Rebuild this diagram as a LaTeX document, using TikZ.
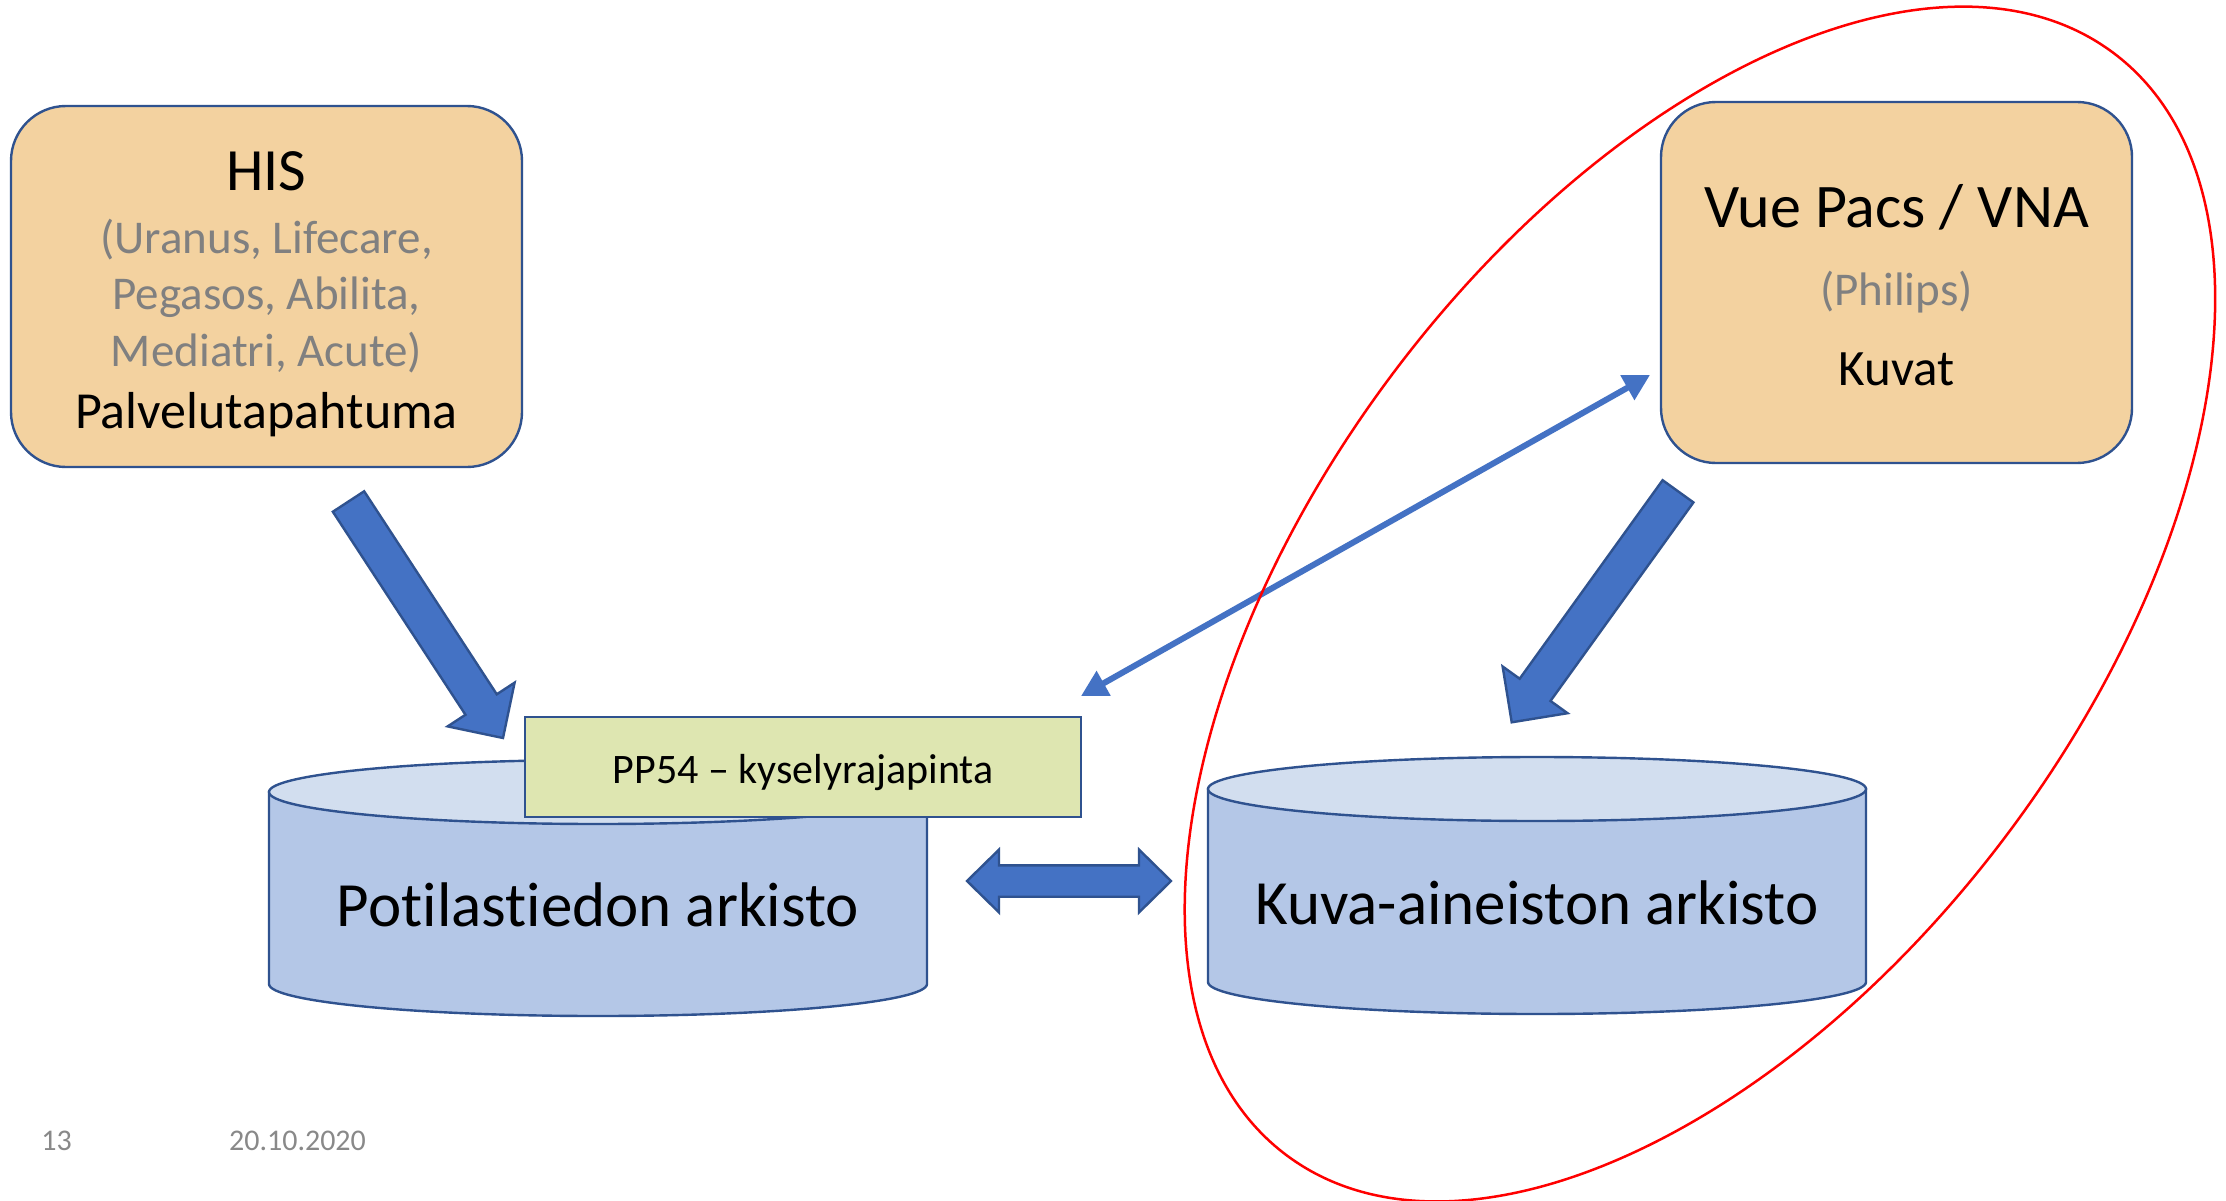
\documentclass[tikz,border=0pt]{standalone}
\usepackage{fontspec}
\setmainfont[Ligatures={NoCommon,NoContextual}]{Carlito}
\usetikzlibrary{calc,arrows.meta}
\definecolor{boxfill}{HTML}{F3D2A0}
\definecolor{boxline}{HTML}{2F528F}
\definecolor{cylbody}{HTML}{B4C7E7}
\definecolor{cyltop}{HTML}{D2DEEF}
\definecolor{ppfill}{HTML}{DEE6B1}
\definecolor{arrowblue}{HTML}{4472C4}
\definecolor{graytext}{HTML}{808080}
\definecolor{footgray}{HTML}{898989}
\newcommand\blockarrow[5]{%
  \coordinate (ba-h) at ($(#2)!#5!(#1)$);
  \draw[bigarrow] ($(#1)!#3!90:(#2)$) -- ($(ba-h)!#3!90:(#2)$) -- ($(ba-h)!#4!90:(#2)$) -- (#2)
     -- ($(ba-h)!#4!-90:(#2)$) -- ($(ba-h)!#3!-90:(#2)$) -- ($(#1)!#3!-90:(#2)$) -- cycle;
}
\begin{document}
\begin{tikzpicture}[x=1pt,y=-1pt,
  sysbox/.style={draw=boxline, line width=2.4pt, fill=boxfill, rounded corners=55pt, inner sep=0pt},
  ppbox/.style={draw=boxline, line width=2.4pt, fill=ppfill, inner sep=0pt},
  txt/.style={anchor=base, inner sep=0pt, text=black},
  graytxt/.style={anchor=base, inner sep=0pt, text=graytext},
  cyl/.style={draw=boxline, line width=2.4pt, fill=cylbody},
  cyltopst/.style={draw=boxline, line width=2.4pt, fill=cyltop},
  bigarrow/.style={draw=boxline, line width=2.4pt, fill=arrowblue, line join=miter},
  thinarrow/.style={draw=arrowblue, line width=6pt, {Triangle[length=26pt,width=27pt]}-{Triangle[length=26pt,width=27pt]}},
  redring/.style={draw=red, line width=2.5pt},
  foot/.style={anchor=base, inner sep=0pt, text=footgray, font=\fontsize{30}{36}\selectfont}]
\useasboundingbox (0,0) rectangle (2226,1201);
\fill[white] (0,0) rectangle (2226,1201);

% HIS box
\node[sysbox, minimum width=511pt, minimum height=361pt] (his) at (266.5,286.5) {};
\node[txt, font=\fontsize{60}{72}\selectfont] (his-t1) at (266.5,190) {HIS};
\node[graytxt, font=\fontsize{47}{56}\selectfont] (his-t2) at (266.5,253) {(Uranus, Lifecare,};
\node[graytxt, font=\fontsize{47}{56}\selectfont] (his-t3) at (266.5,309) {Pegasos, Abilita,};
\node[graytxt, font=\fontsize{47}{56}\selectfont] (his-t4) at (266.5,366) {Mediatri, Acute)};
\node[txt, font=\fontsize{52}{62}\selectfont] (his-t5) at (266.5,428) {Palvelutapahtuma};

% Vue box
\node[sysbox, minimum width=471pt, minimum height=361pt] (vue) at (1896.5,282.5) {};
\node[txt, font=\fontsize{62}{74}\selectfont] (vue-t1) at (1896.5,227) {Vue Pacs / VNA};
\node[graytxt, font=\fontsize{47}{56}\selectfont] (vue-t2) at (1896.5,305) {(Philips)};
\node[txt, font=\fontsize{51}{61}\selectfont] (vue-t3) at (1896.5,385) {Kuvat};

% left cylinder
\draw[cyl] (269,792) -- (269,984) arc[start angle=180, end angle=360, x radius=329pt, y radius=32pt] -- (927,792) -- cycle;
\draw[cyltopst] (598,792) ellipse [x radius=329pt, y radius=32pt];
\node[txt, font=\fontsize{63}{75}\selectfont] (pat) at (598,926) {Potilastiedon arkisto};

% right cylinder
\draw[cyl] (1208,789) -- (1208,982) arc[start angle=180, end angle=360, x radius=329pt, y radius=32pt] -- (1866,789) -- cycle;
\draw[cyltopst] (1537,789) ellipse [x radius=329pt, y radius=32pt];
\node[txt, font=\fontsize{63}{75}\selectfont] (kuva) at (1537,924) {Kuva-aineiston arkisto};

% PP54 box
\node[ppbox, minimum width=556pt, minimum height=100pt] (pp) at (803,767) {};
\node[txt, font=\fontsize{42}{50}\selectfont] (pp-t) at (803,783) {PP54 – kyselyrajapinta};

% big arrows
\coordinate (his-a1) at (348.5,501.5);
\coordinate (his-a2) at (503,738);
\blockarrow{his-a1}{his-a2}{18.7pt}{40pt}{40pt}
\coordinate (vue-a1) at (1678,491.3);
\coordinate (vue-a2) at (1511.7,722.3);
\blockarrow{vue-a1}{vue-a2}{19pt}{40pt}{40pt}

% double block arrow
\coordinate (da-l) at (967,881);
\coordinate (da-r) at (1171,881);
\coordinate (dl) at ($(da-l)!32pt!(da-r)$);
\coordinate (dr) at ($(da-r)!32pt!(da-l)$);
\draw[bigarrow] (da-l) -- ($(dl)!31.4pt!90:(da-r)$) -- ($(dl)!15.7pt!90:(da-r)$) -- ($(dr)!15.7pt!90:(da-r)$) -- ($(dr)!31.4pt!90:(da-r)$) -- (da-r)
  -- ($(dr)!31.4pt!-90:(da-r)$) -- ($(dr)!15.7pt!-90:(da-r)$) -- ($(dl)!15.7pt!-90:(da-r)$) -- ($(dl)!31.4pt!-90:(da-r)$) -- cycle;

% thin double arrow
\coordinate (pp-q) at (1081,696);
\coordinate (vue-q) at (1650,375);
\draw[thinarrow] (pp-q) -- (vue-q);

% footer
\node[foot] (pg) at (56.5,1150) {13};
\node[foot] (date) at (297.5,1150) {20.10.2020};

% red ring
\coordinate (ell-c) at (1700,604);
\draw[redring, rotate around={53.1:(ell-c)}] (ell-c) ellipse [x radius=689pt, y radius=384pt];
\end{tikzpicture}
\end{document}
